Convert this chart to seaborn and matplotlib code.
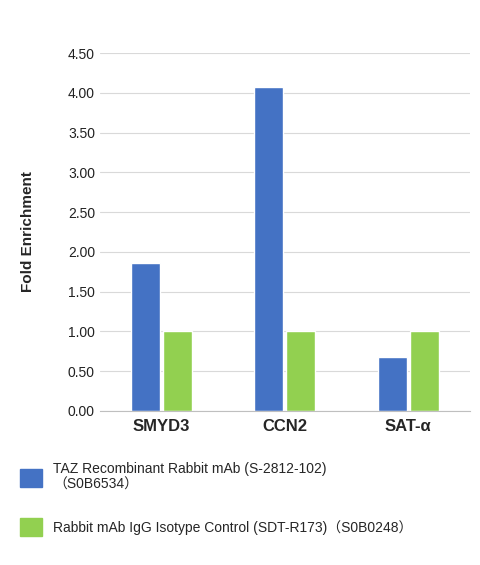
import matplotlib
matplotlib.use("Agg")
import matplotlib.pyplot as plt
import seaborn as sns
import pandas as pd
from matplotlib.patches import Patch
from matplotlib.ticker import FormatStrFormatter

categories = ["SMYD3", "CCN2", "SAT-α"]
taz_values = [1.86, 4.07, 0.68]
igg_values = [1.0, 1.0, 1.0]
series = ["TAZ Recombinant Rabbit mAb (S-2812-102)\n（S0B6534）",
          "Rabbit mAb IgG Isotype Control (SDT-R173)（S0B0248）"]
colors = ["#4472C4", "#92D050"]

df = pd.DataFrame({
    "cat": categories * 2,
    "val": taz_values + igg_values,
    "series": [series[0]] * 3 + [series[1]] * 3,
})

sns.set_style("white")
plt.rcParams['font.family'] = ['Liberation Sans', 'Noto Sans CJK SC', 'DejaVu Sans']

fig = plt.figure(figsize=(4.8, 5.65), dpi=100)
ax = fig.add_axes([0.208, 0.2726, 0.771, 0.6334])
sns.barplot(data=df, x="cat", y="val", hue="series", palette=colors,
            width=0.52, gap=0.1, saturation=1, ax=ax, legend=False)
ax.set_ylim(0, 4.5)
ax.set_yticks([i * 0.5 for i in range(10)])
ax.yaxis.set_major_formatter(FormatStrFormatter("%.2f"))
ax.grid(axis="y", color="#d9d9d9", linewidth=0.8)
ax.set_axisbelow(True)
for s in ["top", "right", "left"]:
    ax.spines[s].set_visible(False)
ax.spines["bottom"].set_color("#bfbfbf")
ax.tick_params(axis="y", labelsize=10, length=0, colors="#222222")
ax.tick_params(axis="x", length=0, pad=6)
for t in ax.get_xticklabels():
    t.set_fontweight("bold")
    t.set_fontsize(12)
ax.set_xlabel("")
ax.set_ylabel("Fold Enrichment", fontsize=11, fontweight="bold", labelpad=24)

handles = [Patch(color=c) for c in colors]
fig.legend(handles, series, loc="upper left", bbox_to_anchor=(0.015, 0.205),
           frameon=False, fontsize=10, handlelength=1.6, handleheight=1.6,
           labelspacing=1.9, alignment="left")
fig.savefig("out.png", dpi=100)
